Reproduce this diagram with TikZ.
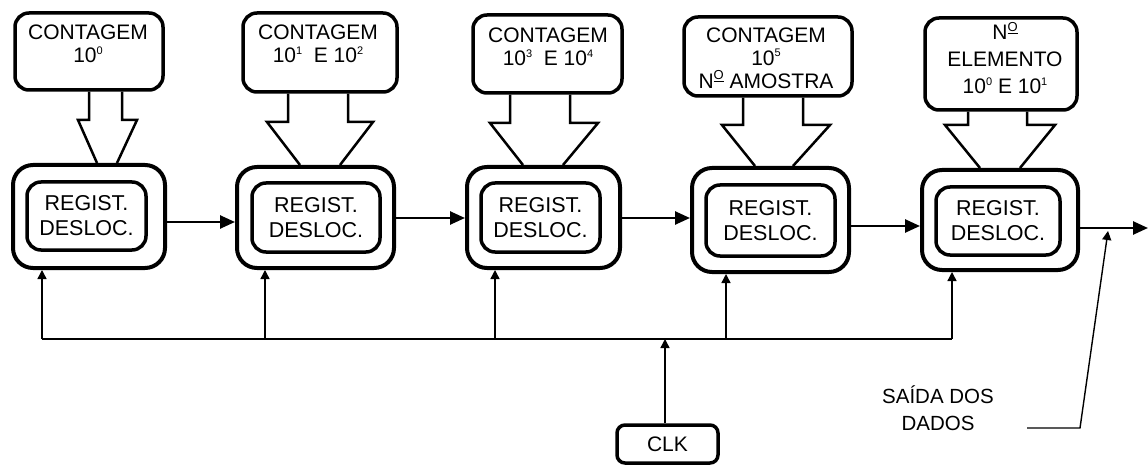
\documentclass[tikz,border=0pt]{standalone}
\usepackage{fontspec}
\setmainfont{Liberation Sans}
\usetikzlibrary{arrows.meta}
\newcommand\sy[1]{\raisebox{0.75ex}{\fontsize{11}{11}\selectfont #1}}
\newcommand\numero{N\raisebox{0.75ex}{\fontsize{13}{13}\selectfont\underline{O}}}
\tikzset{
  topbox/.style={draw, line width=3.5pt, rounded corners=14pt, inner sep=0pt},
  outerreg/.style={draw, line width=4pt, rounded corners=20pt, inner sep=0pt},
  innerreg/.style={draw, line width=3.5pt, rounded corners=14pt, inner sep=0pt, align=center, font=\fontsize{21.5}{25}\selectfont},
  txt/.style={align=center, inner sep=0pt, font=\fontsize{21}{23}\selectfont},
  blockarr/.style={line width=2.5pt, line join=miter},
  data/.style={line width=2.5pt, -{Triangle[length=15pt,width=13pt]}},
  clkarrow/.style={line width=1.4pt, -{Triangle[length=9pt,width=9pt]}},
  thin/.style={line width=1.4pt},
  clkbox/.style={draw, line width=3.5pt, rounded corners=8pt, inner sep=0pt, minimum width=101pt, minimum height=38pt, font=\fontsize{21}{22}\selectfont}
}
\newcommand\hollowarrow[9]{%
  \draw[blockarr] (#3,0 |- #1.south) -- (#3,#7) -- (#5,#7) -- (#8,0 |- #2.north)
        (#9,0 |- #2.north) -- (#6,#7) -- (#4,#7) -- (#4,0 |- #1.south);}
\begin{document}
\begin{tikzpicture}[x=1pt,y=-1pt]
\useasboundingbox (0,0) rectangle (1148,465);
% top boxes
\node[topbox, minimum width=148pt, minimum height=77pt] (T1) at (89,51.5) {};
\node[topbox, minimum width=154pt, minimum height=79pt] (T2) at (320,52.5) {};
\node[topbox, minimum width=149pt, minimum height=78pt] (T3) at (547.5,54) {};
\node[topbox, minimum width=168pt, minimum height=79pt] (T4) at (768,56.5) {};
\node[topbox, minimum width=152pt, minimum height=92pt] (T5) at (1001,64) {};
\node[txt] (T1t) at (88,44) {CONTAGEM\\10\sy{0}};
\node[txt] (T2t) at (318,44) {CONTAGEM\\10\sy{1}\ \ E 10\sy{2}};
\node[txt] (T3t) at (548,47) {CONTAGEM\\10\sy{3}\ \ E 10\sy{4}};
\node[txt] (T4t) at (766,58) {CONTAGEM\\10\sy{5}\\\numero\ AMOSTRA};
\node[txt, font=\fontsize{21}{27}\selectfont] (T5t) at (1005,58) {\numero\\ELEMENTO\\10\sy{0} E 10\sy{1}};
% registers
\node[outerreg, minimum width=152pt, minimum height=103pt] (R1) at (89,216.5) {};
\node[outerreg, minimum width=157pt, minimum height=101pt] (R2) at (315.5,217.5) {};
\node[outerreg, minimum width=153pt, minimum height=101pt] (R3) at (543.5,217.5) {};
\node[outerreg, minimum width=157pt, minimum height=104pt] (R4) at (770.5,220) {};
\node[outerreg, minimum width=156pt, minimum height=100pt] (R5) at (1000,220) {};
\node[innerreg, minimum width=119pt, minimum height=68pt] (R1i) at (86.5,216) {REGIST.\\DESLOC.};
\node[innerreg, minimum width=128pt, minimum height=69pt] (R2i) at (316,217.5) {REGIST.\\DESLOC.};
\node[innerreg, minimum width=119pt, minimum height=69pt] (R3i) at (540.5,217.5) {REGIST.\\DESLOC.};
\node[innerreg, minimum width=129pt, minimum height=71pt] (R4i) at (770.5,220.5) {REGIST.\\DESLOC.};
\node[innerreg, minimum width=124pt, minimum height=68pt] (R5i) at (998,221) {REGIST.\\DESLOC.};
% hollow arrows
\hollowarrow{T1}{R1}{89}{122}{78}{137}{120}{97}{117}
\hollowarrow{T2}{R2}{288}{348}{267}{373}{122}{300}{340}
\hollowarrow{T3}{R3}{510}{570}{490}{598}{123}{523}{563}
\hollowarrow{T4}{R4}{743}{803}{722}{830}{125}{755}{793}
\hollowarrow{T5}{R5}{968}{1027}{945}{1055}{125}{980}{1020}
% data arrows
\draw[data] (R1.east |- 0,222) -- (R2.west |- 0,222);
\draw[data] (R2.east |- 0,218) -- (R3.west |- 0,218);
\draw[data] (R3.east |- 0,218) -- (R4.west |- 0,218);
\draw[data] (R4.east |- 0,226) -- (R5.west |- 0,226);
\coordinate (out) at (1148,228);
\draw[data] (R5.east |- out) -- (out);
% clock
\coordinate (b1) at (42,339);
\coordinate (b2) at (265,339);
\coordinate (b3) at (495,339);
\coordinate (b4) at (726,339);
\coordinate (b5) at (952,339);
\draw[thin] (b1) -- (b5);
\draw[clkarrow] (b1) -- (b1 |- R1.south);
\draw[clkarrow] (b2) -- (b2 |- R2.south);
\draw[clkarrow] (b3) -- (b3 |- R3.south);
\draw[clkarrow] (b4) -- (b4 |- R4.south);
\draw[clkarrow] (b5) -- (b5 |- R5.south);
\node[clkbox] (CLK) at (667.5,444) {CLK};
\draw[clkarrow] (CLK.north -| 665,0) -- (665,0 |- b1);
% output label
\node[txt, font=\fontsize{20.5}{27}\selectfont] (out lbl) at (938,408) {SAÍDA DOS\\DADOS};
\coordinate (l0) at (1027,428);
\coordinate (l1) at (1080,428);
\coordinate (l2) at (1108,231);
\draw[thin, -{Triangle[length=9pt,width=9pt]}] (l0) -- (l1) -- (l2);
\end{tikzpicture}
\end{document}
